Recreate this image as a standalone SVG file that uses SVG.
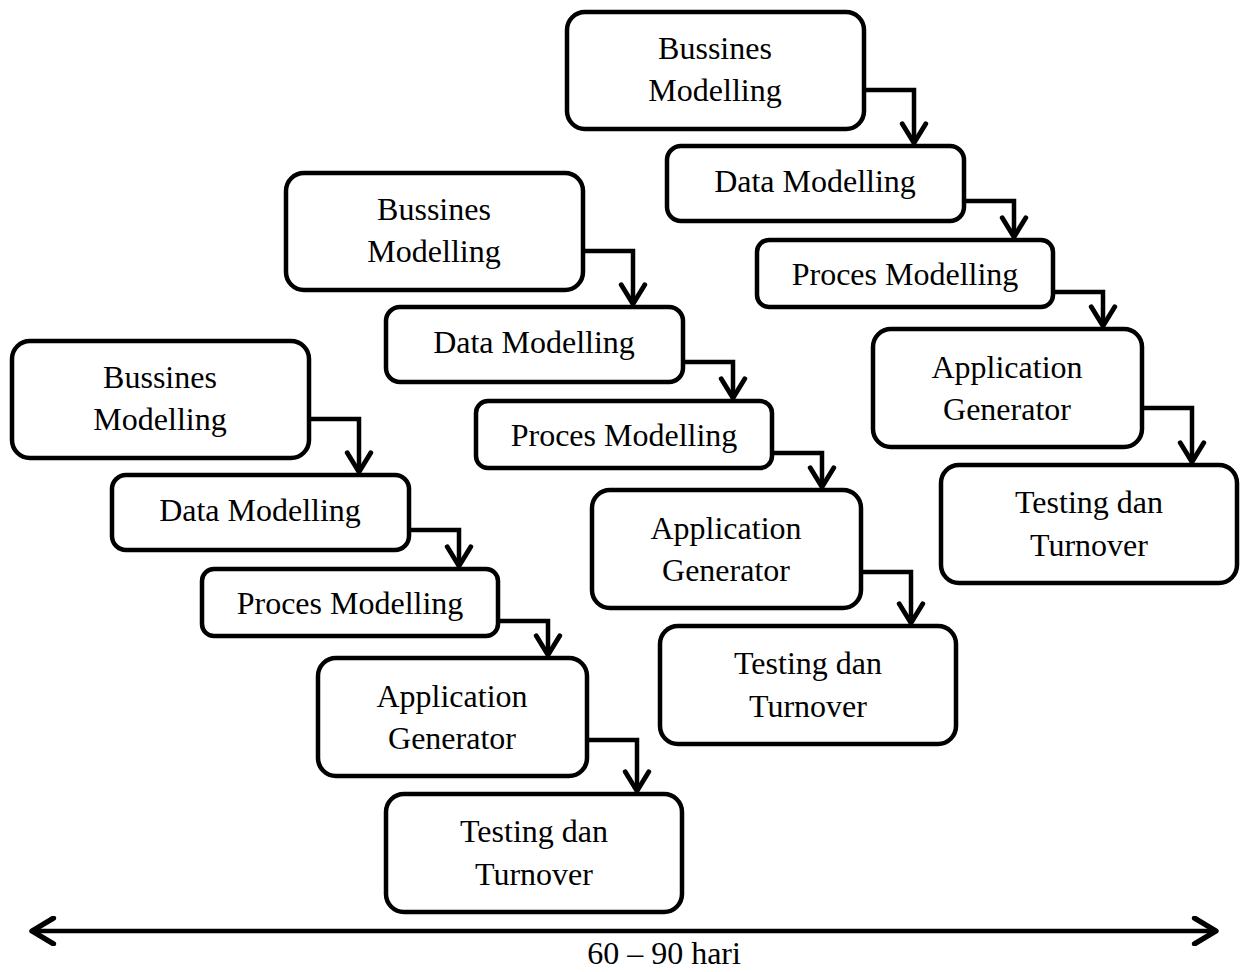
<svg xmlns="http://www.w3.org/2000/svg" width="1240" height="972" viewBox="0 0 1240 972">
<defs>
<style>
.box{fill:#fff;stroke:#000;stroke-width:4.5}
.t{font-family:"Liberation Serif","Times New Roman",serif;font-size:32px;fill:#000;text-anchor:middle}
.c{fill:none;stroke:#000;stroke-width:4.5;stroke-linejoin:miter}
</style>
<marker id="ah" markerUnits="userSpaceOnUse" markerWidth="30" markerHeight="30" viewBox="-22 -14 26 28" refX="0" refY="0" orient="auto">
<path d="M-18,-11 L0,0 L-18,11" fill="none" stroke="#000" stroke-width="4.5" stroke-linecap="round" stroke-linejoin="round"/>
</marker>
<marker id="ahs" markerUnits="userSpaceOnUse" markerWidth="30" markerHeight="30" viewBox="-22 -14 26 28" refX="0" refY="0" orient="auto-start-reverse">
<path d="M-20,-12 L0,0 L-20,12" fill="none" stroke="#000" stroke-width="5" stroke-linecap="round" stroke-linejoin="round"/>
</marker>
</defs>
<rect width="1240" height="972" fill="#fff"/>
<g id="connectors">
<path class="c" d="M309,419 H359 V472" marker-end="url(#ah)"/>
<path class="c" d="M409,530 H459 V566" marker-end="url(#ah)"/>
<path class="c" d="M498,621 H548 V655" marker-end="url(#ah)"/>
<path class="c" d="M587,740 H637 V791" marker-end="url(#ah)"/>
<path class="c" d="M583,251 H633 V304" marker-end="url(#ah)"/>
<path class="c" d="M683,362 H733 V398" marker-end="url(#ah)"/>
<path class="c" d="M772,453 H822 V487" marker-end="url(#ah)"/>
<path class="c" d="M861,572 H911 V623" marker-end="url(#ah)"/>
<path class="c" d="M864,90 H914 V143" marker-end="url(#ah)"/>
<path class="c" d="M964,201 H1014 V237" marker-end="url(#ah)"/>
<path class="c" d="M1053,292 H1103 V326" marker-end="url(#ah)"/>
<path class="c" d="M1142,408 H1192 V462" marker-end="url(#ah)"/>
<path class="c" d="M32,931 H1216" stroke-width="5" marker-start="url(#ahs)" marker-end="url(#ahs)"/>
</g>
<g id="c1-business"><rect class="box" x="12" y="341" width="297" height="117" rx="18"/><text class="t" x="160" y="388">Bussines</text><text class="t" x="160" y="430">Modelling</text></g>
<g id="c1-data"><rect class="box" x="112" y="475" width="297" height="75" rx="14"/><text class="t" x="260" y="521">Data Modelling</text></g>
<g id="c1-proces"><rect class="box" x="202" y="569" width="296" height="67" rx="12"/><text class="t" x="350" y="614">Proces Modelling</text></g>
<g id="c1-app"><rect class="box" x="318" y="658" width="269" height="118" rx="18"/><text class="t" x="452" y="707">Application</text><text class="t" x="452" y="749">Generator</text></g>
<g id="c1-test"><rect class="box" x="386" y="794" width="296" height="118" rx="18"/><text class="t" x="534" y="842">Testing dan</text><text class="t" x="534" y="885">Turnover</text></g>
<g id="c2-business"><rect class="box" x="286" y="173" width="297" height="117" rx="18"/><text class="t" x="434" y="220">Bussines</text><text class="t" x="434" y="262">Modelling</text></g>
<g id="c2-data"><rect class="box" x="386" y="307" width="297" height="75" rx="14"/><text class="t" x="534" y="353">Data Modelling</text></g>
<g id="c2-proces"><rect class="box" x="476" y="401" width="296" height="67" rx="12"/><text class="t" x="624" y="446">Proces Modelling</text></g>
<g id="c2-app"><rect class="box" x="592" y="490" width="269" height="118" rx="18"/><text class="t" x="726" y="539">Application</text><text class="t" x="726" y="581">Generator</text></g>
<g id="c2-test"><rect class="box" x="660" y="626" width="296" height="118" rx="18"/><text class="t" x="808" y="674">Testing dan</text><text class="t" x="808" y="717">Turnover</text></g>
<g id="c3-business"><rect class="box" x="567" y="12" width="297" height="117" rx="18"/><text class="t" x="715" y="59">Bussines</text><text class="t" x="715" y="101">Modelling</text></g>
<g id="c3-data"><rect class="box" x="667" y="146" width="297" height="75" rx="14"/><text class="t" x="815" y="192">Data Modelling</text></g>
<g id="c3-proces"><rect class="box" x="757" y="240" width="296" height="67" rx="12"/><text class="t" x="905" y="285">Proces Modelling</text></g>
<g id="c3-app"><rect class="box" x="873" y="329" width="269" height="118" rx="18"/><text class="t" x="1007" y="378">Application</text><text class="t" x="1007" y="420">Generator</text></g>
<g id="c3-test"><rect class="box" x="941" y="465" width="296" height="118" rx="18"/><text class="t" x="1089" y="513">Testing dan</text><text class="t" x="1089" y="556">Turnover</text></g>
<text id="label" class="t" x="664" y="964" font-size="30">60 – 90 hari</text>
</svg>
